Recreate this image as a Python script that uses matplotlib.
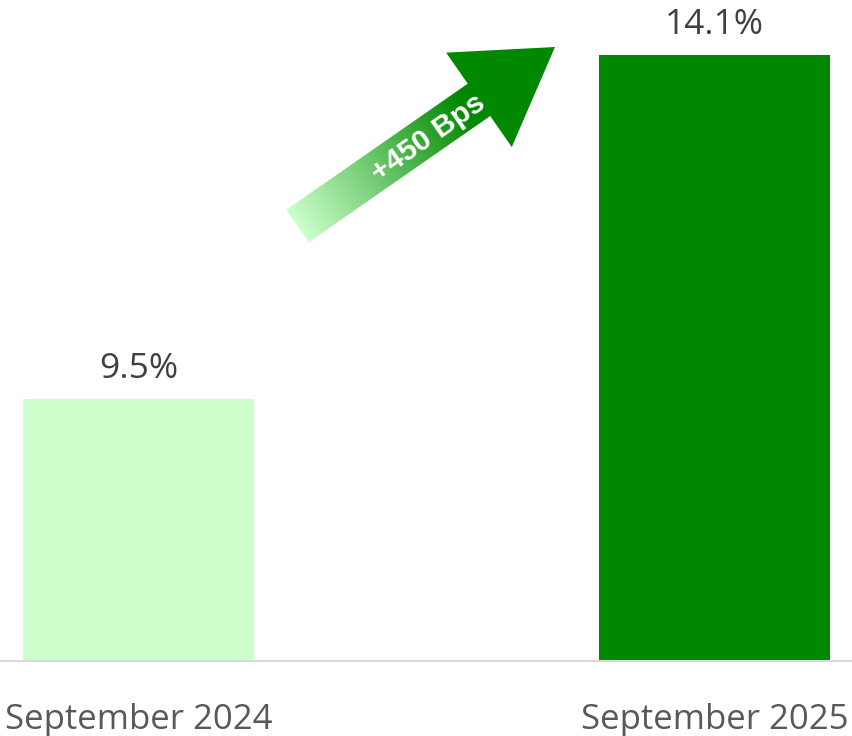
import numpy as np
import matplotlib
matplotlib.use("Agg")
import matplotlib.pyplot as plt
from matplotlib.patches import Polygon
from matplotlib.colors import LinearSegmentedColormap

categories = ["September 2024", "September 2025"]
values = [9.5, 14.1]
value_labels = ["9.5%", "14.1%"]
bar_colors = ["#ccffcc", "#008800"]
arrow_label = "+450 Bps"

W, H = 853, 736
FONT = ["Open Sans", "DejaVu Sans"]
fig = plt.figure(figsize=(W / 100, H / 100), dpi=100)
ax = fig.add_axes([0, 75 / H, 1, 661 / H])
x = np.arange(len(categories))
ax.bar(x, values, width=0.4, color=bar_colors, zorder=2)
ax.set_xlim(-0.2405, 1.2405)
ax.set_ylim(6.0, 6.0 + 661 / 74.78)
for xi, v, lab in zip(x, values, value_labels):
    ax.annotate(lab, (xi, v), xytext=(0, 15.5), textcoords="offset points",
                ha="center", va="baseline", fontsize=25.5, color="#404040",
                family=FONT)
ax.set_xticks(x)
ax.set_xticklabels(categories, fontsize=25, color="#595959", family=FONT)
ax.tick_params(axis="x", length=0, pad=30.5)
ax.set_yticks([])
for s in ["top", "right", "left"]:
    ax.spines[s].set_visible(False)
ax.spines["bottom"].set_color("#d9d9d9")
ax.spines["bottom"].set_linewidth(1.5)
ax.spines["bottom"].set_zorder(3)

# arrow overlay in pixel coordinates
ov = fig.add_axes([0, 0, 1, 1])
ov.set_xlim(0, W)
ov.set_ylim(H, 0)
ov.axis("off")
T = np.array([297.5, 226.0])
P = np.array([555.0, 47.0])
L = np.linalg.norm(P - T)
u = (P - T) / L
n = np.array([-u[1], u[0]])
sw, hw, hl = 19.7, 57.5, 92.6
B = P - hl * u
pts = [T + sw * n, B + sw * n, B + hw * n, P, B - hw * n, B - sw * n, T - sw * n]
poly = Polygon(pts, closed=True, facecolor="none", edgecolor="none")
ov.add_patch(poly)
gx, gy = np.meshgrid(np.arange(W) + 0.5, np.arange(H) + 0.5)
t = ((gx - T[0]) * u[0] + (gy - T[1]) * u[1]) / L
t = np.clip(t / 0.66, 0, 1)
cmap = LinearSegmentedColormap.from_list("g", ["#ccffcc", "#008800"])
im = ov.imshow(t, cmap=cmap, vmin=0, vmax=1, extent=(0, W, H, 0), interpolation="bilinear", zorder=4)
im.set_clip_path(poly)
ang = np.degrees(np.arctan2(-u[1], u[0]))
ov.text(428, 138, arrow_label, rotation=ang, rotation_mode="anchor", ha="center", va="center",
        fontsize=21.5, fontweight="bold", color="white", family=["Liberation Sans", "DejaVu Sans"], zorder=5)
ov.set_xlim(0, W)
ov.set_ylim(H, 0)

fig.savefig("out.png", dpi=100)
